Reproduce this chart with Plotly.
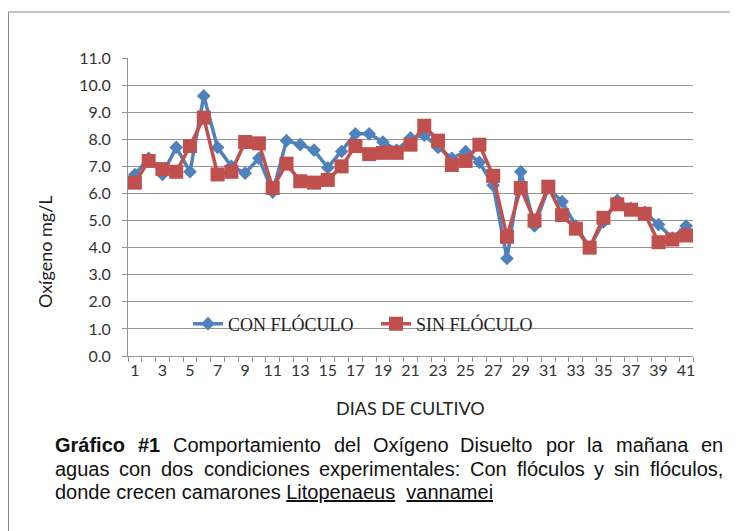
import plotly.graph_objects as go

# ---------------- data ----------------
dias = list(range(1, 42))
con_floculo = [6.7, 7.3, 6.7, 7.7, 6.8, 9.6, 7.7, 7.0, 6.75, 7.3,
               6.05, 7.95, 7.8, 7.6, 6.95, 7.55, 8.2, 8.2, 7.9, 7.6,
               8.05, 8.15, 7.7, 7.3, 7.55, 7.15, 6.3, 3.6, 6.8, 4.8,
               6.2, 5.7, 4.8, 4.0, 4.95, 5.75, 5.45, 5.3, 4.85, 4.35, 4.8]
sin_floculo = [6.4, 7.2, 6.9, 6.8, 7.75, 8.8, 6.7, 6.8, 7.9, 7.85,
               6.2, 7.1, 6.45, 6.4, 6.5, 7.0, 7.75, 7.45, 7.5, 7.5,
               7.8, 8.5, 7.95, 7.05, 7.2, 7.8, 6.65, 4.4, 6.2, 5.0,
               6.25, 5.2, 4.7, 4.0, 5.1, 5.6, 5.4, 5.25, 4.2, 4.3, 4.45]
x_ticks = list(range(1, 42, 2))
y_ticks = [i * 1.0 for i in range(0, 12)]

# ---------------- layout geometry ----------------
# window pixel coordinates; the page body has an 8px margin
OFF = 8
W, H = 738 - OFF, 531 - OFF
L, R, T, B = 128, 693, 58, 356   # plot area in window pixels


def px2x(px):
    return (px - L) / (R - L)


def py2y(py):
    return (B - py) / (B - T)


TICK_FONT = dict(family="Lato, 'Open Sans', sans-serif", size=16, color="#333333")
GRID = "#949494"

fig = go.Figure()
fig.add_trace(go.Scatter(
    x=dias, y=con_floculo, name="CON FLÓCULO", mode="lines+markers",
    line=dict(color="#4F81BD", width=3.5),
    marker=dict(symbol="diamond", size=10.5, color="#4F81BD"),
))
fig.add_trace(go.Scatter(
    x=dias, y=sin_floculo, name="SIN FLÓCULO", mode="lines+markers",
    line=dict(color="#C0504D", width=3.5),
    marker=dict(symbol="square", size=14, color="#C0504D"),
))

fig.update_layout(
    width=W, height=H,
    margin=dict(l=L - OFF, r=738 - R, t=T - OFF, b=531 - B, autoexpand=False),
    paper_bgcolor="white", plot_bgcolor="white",
    showlegend=True,
    legend=dict(
        orientation="h", x=px2x(188), y=py2y(324), xanchor="left", yanchor="middle",
        bgcolor="rgba(0,0,0,0)",
        font=dict(family="'Liberation Serif', 'Times New Roman', serif", size=18, color="#222222"),
        entrywidth=143, entrywidthmode="pixels",
    ),
    xaxis=dict(
        range=[0.5, 41.5], tickmode="array", tickvals=x_ticks,
        ticktext=[str(v) for v in x_ticks], ticks="", showgrid=False,
        showline=True, linecolor=GRID, linewidth=1, zeroline=False,
        tickfont=TICK_FONT,
        minor=dict(tick0=0.5, dtick=1, ticks="outside", ticklen=5, tickcolor=GRID, showgrid=False),
    ),
    yaxis=dict(
        range=[0, 11], tickmode="array", tickvals=y_ticks, tickformat=".1f",
        ticks="outside", ticklen=5, tickcolor=GRID, showgrid=True, gridcolor=GRID,
        gridwidth=1, showline=True, linecolor=GRID, linewidth=1, zeroline=False,
        tickfont=TICK_FONT, ticklabelstandoff=8,
    ),
)

# axis titles as annotations
fig.add_annotation(
    text="DIAS DE CULTIVO", xref="paper", yref="paper", x=px2x(410), y=py2y(408),
    showarrow=False, xanchor="center", yanchor="middle",
    font=dict(family="Lato, sans-serif", size=18, color="#222222"),
)
fig.add_annotation(
    text="Oxígeno mg/L", xref="paper", yref="paper", x=px2x(45), y=py2y(252),
    showarrow=False, xanchor="center", yanchor="middle", textangle=-90,
    font=dict(family="Lato, sans-serif", size=18, color="#222222"),
)

# ---------------- caption (justified, Arial metrics) ----------------
AR = {' ': 278, 'a': 556, 'b': 556, 'c': 500, 'd': 556, 'e': 556, 'f': 278, 'g': 556,
      'h': 556, 'i': 222, 'j': 222, 'k': 500, 'l': 222, 'm': 833, 'n': 556, 'o': 556,
      'p': 556, 'q': 556, 'r': 333, 's': 500, 't': 278, 'u': 556, 'v': 500, 'w': 722,
      'x': 500, 'y': 500, 'z': 500, 'á': 556, 'í': 222, 'ó': 556, 'ñ': 556,
      'C': 722, 'D': 722, 'O': 778, 'G': 778, 'L': 556, ':': 278, ',': 278, '.': 278,
      '#': 556, '1': 556}
ARB = {' ': 278, 'G': 778, 'r': 389, 'á': 556, 'f': 333, 'i': 278, 'c': 556, 'o': 611,
       '#': 556, '1': 556}
CAP_SIZE = 20
CAP_FONT = "Liberation Sans, Arial, sans-serif"


def width(word, bold=False):
    tbl = ARB if bold else AR
    return sum(tbl.get(ch, 556) for ch in word) * CAP_SIZE / 1000.0


line1 = [("Gráfico", True), ("#1", True), ("Comportamiento", False), ("del", False),
         ("Oxígeno", False), ("Disuelto", False), ("por", False), ("la", False),
         ("mañana", False), ("en", False)]
line2 = [(w, False) for w in "aguas con dos condiciones experimentales: Con flóculos y sin flóculos,".split(" ")]

CAP_L, CAP_R = 53, 721


def justified(words, py):
    widths = [width(w, b) for w, b in words]
    gap = (CAP_R - CAP_L - sum(widths)) / (len(words) - 1)
    xpos = CAP_L
    for (w, b), wd in zip(words, widths):
        txt = f"<b>{w}</b>" if b else w
        fig.add_annotation(
            text=txt, xref="paper", yref="paper", x=px2x(xpos), y=py2y(py),
            showarrow=False, xanchor="left", yanchor="middle",
            font=dict(family=CAP_FONT, size=CAP_SIZE, color="#111111"),
        )
        xpos += wd + gap


justified(line1, 445)
justified(line2, 469)
fig.add_annotation(
    text="donde crecen camarones <u>Litopenaeus</u>\u00a0 <u>vannamei</u>",
    xref="paper", yref="paper", x=px2x(CAP_L), y=py2y(492),
    showarrow=False, xanchor="left", yanchor="middle",
    font=dict(family=CAP_FONT, size=CAP_SIZE, color="#111111"),
)

# outer frame
fig.add_shape(type="rect", xref="paper", yref="paper",
              x0=px2x(8.5), y0=py2y(545), x1=px2x(750), y1=py2y(12),
              line=dict(color="#8a8a8a", width=1), fillcolor="rgba(0,0,0,0)", layer="below")

fig.write_html("out.html")
